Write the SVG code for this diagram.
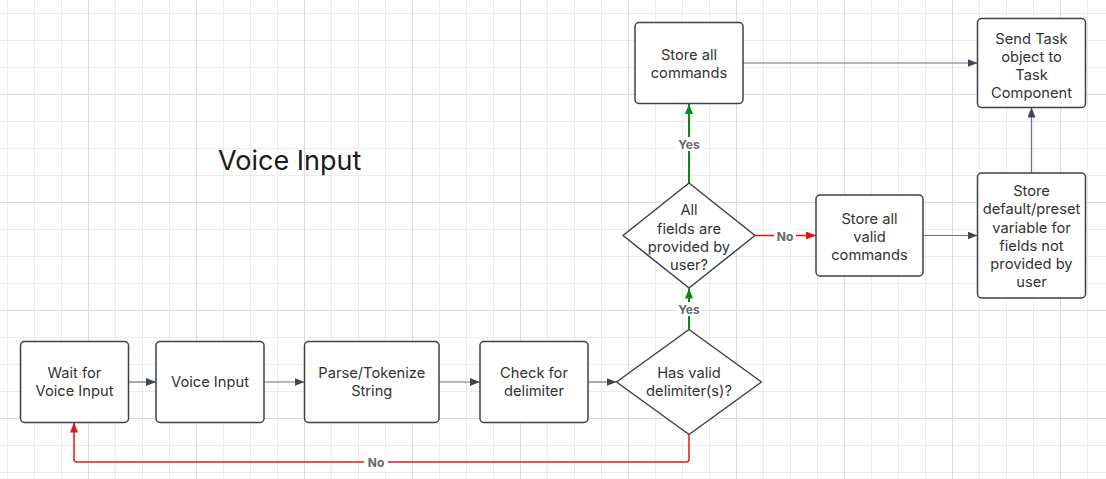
<svg xmlns="http://www.w3.org/2000/svg" width="1106" height="479" viewBox="0 0 1106 479">
  <defs>
    <pattern id="minor" patternUnits="userSpaceOnUse" x="7" y="13" width="27" height="27">
      <path d="M0.5 0V27M0 0.5H27" stroke="#ececec" stroke-width="1" fill="none"/>
    </pattern>
    <pattern id="major" patternUnits="userSpaceOnUse" x="88" y="94" width="108" height="108">
      <path d="M0.5 0V108M0 0.5H108" stroke="#dcdcdc" stroke-width="1" fill="none"/>
    </pattern>
    <marker id="arrowGray" viewBox="0 0 10 8" refX="10" refY="4" markerWidth="10" markerHeight="8" markerUnits="userSpaceOnUse" orient="auto">
      <path d="M0 0L10 4L0 8Z" fill="#3f4652"/>
    </marker>
    <marker id="arrowRed" viewBox="0 0 10 8" refX="10" refY="4" markerWidth="10" markerHeight="8" markerUnits="userSpaceOnUse" orient="auto">
      <path d="M0 0L10 4L0 8Z" fill="#e81414"/>
    </marker>
    <marker id="arrowGreen" viewBox="0 0 10 8" refX="10" refY="4" markerWidth="10" markerHeight="8" markerUnits="userSpaceOnUse" orient="auto">
      <path d="M0 0L10 4L0 8Z" fill="#088a12"/>
    </marker>
  </defs>
  <style>
    .box { fill: #ffffff; stroke: #3a414b; stroke-width: 1.5; }
    .txt { font-family: Inter, "Liberation Sans", sans-serif; font-size: 14.7px; fill: #333333; text-anchor: middle; }
    .title { font-family: Inter, "Liberation Sans", sans-serif; font-size: 27px; fill: #1a1a1a; }
    .line { fill: none; stroke: #6b7280; stroke-width: 1.2; marker-end: url(#arrowGray); }
    .red { fill: none; stroke: #e81414; stroke-width: 1.5; }
    .green { fill: none; stroke: #088a12; stroke-width: 2; }
    .lbl { font-family: Inter, "Liberation Sans", sans-serif; font-size: 12px; font-weight: bold; fill: #666666; text-anchor: middle; }
    .lblbg { fill: #ffffff; }
  </style>
  <rect width="1106" height="479" fill="#ffffff"/>
  <rect width="1106" height="479" fill="url(#minor)"/>
  <rect width="1106" height="479" fill="url(#major)"/>

  <text class="title" x="218" y="170">Voice Input</text>

  <g id="connectors">
    <path class="line" d="M128.5 382H156"/>
    <path class="line" d="M264 382H304.5"/>
    <path class="line" d="M439 382H480"/>
    <path class="line" d="M588 382H616.5"/>
    <path class="red" marker-end="url(#arrowRed)" d="M689 435V459Q689 462 686 462H77Q74 462 74 459V422.5"/>
    <path class="green" marker-end="url(#arrowGreen)" d="M689 329V288.5"/>
    <path class="green" marker-end="url(#arrowGreen)" d="M689 183V104"/>
    <path class="red" marker-end="url(#arrowRed)" d="M755 235.5H816"/>
    <path class="line" d="M923 235.5H977.5"/>
    <path class="line" d="M743 63H977.5"/>
    <path class="line" d="M1031.5 173V107.5"/>
    <rect class="lblbg" x="364" y="455" width="24" height="14"/>
    <text class="lbl" x="376" y="467">No</text>
    <rect class="lblbg" x="676" y="302" width="26" height="14"/>
    <text class="lbl" x="689" y="314">Yes</text>
    <rect class="lblbg" x="676" y="137" width="26" height="14"/>
    <text class="lbl" x="689" y="149">Yes</text>
    <rect class="lblbg" x="774" y="229" width="22" height="14"/>
    <text class="lbl" x="785" y="240.5">No</text>
  </g>

  <g id="wait">
    <rect class="box" x="20.5" y="341.5" width="108" height="81" rx="4"/>
    <text class="txt" x="74.5" y="378">Wait for</text>
    <text class="txt" x="74.5" y="396">Voice Input</text>
  </g>
  <g id="voice">
    <rect class="box" x="156" y="341.5" width="108" height="81" rx="4"/>
    <text class="txt" x="210" y="387">Voice Input</text>
  </g>
  <g id="parse">
    <rect class="box" x="304.5" y="341.5" width="134.5" height="81" rx="4"/>
    <text class="txt" x="371.75" y="378">Parse/Tokenize</text>
    <text class="txt" x="371.75" y="396">String</text>
  </g>
  <g id="check">
    <rect class="box" x="480" y="341.5" width="108" height="81" rx="4"/>
    <text class="txt" x="534" y="378">Check for</text>
    <text class="txt" x="534" y="396">delimiter</text>
  </g>
  <g id="hasvalid">
    <path class="box" stroke-linejoin="round" d="M689 329.5L761.5 382L689 434.5L616.5 382Z"/>
    <text class="txt" x="689" y="378">Has valid</text>
    <text class="txt" x="689" y="396">delimiter(s)?</text>
  </g>
  <g id="allfields">
    <path class="box" stroke-linejoin="round" d="M689 183L755 235.5L689 288L623 235.5Z"/>
    <text class="txt" x="689" y="215">All</text>
    <text class="txt" x="689" y="233.5">fields are</text>
    <text class="txt" x="689" y="251.5">provided by</text>
    <text class="txt" x="689" y="270">user?</text>
  </g>
  <g id="storeall">
    <rect class="box" x="635" y="22.5" width="108" height="81" rx="4"/>
    <text class="txt" x="689" y="59.5">Store all</text>
    <text class="txt" x="689" y="77.5">commands</text>
  </g>
  <g id="sendtask">
    <rect class="box" x="977.5" y="18.5" width="108" height="89" rx="4"/>
    <text class="txt" x="1031.5" y="43.5">Send Task</text>
    <text class="txt" x="1031.5" y="61.5">object to</text>
    <text class="txt" x="1031.5" y="79.5">Task</text>
    <text class="txt" x="1031.5" y="97.5">Component</text>
  </g>
  <g id="storevalid">
    <rect class="box" x="816" y="195" width="107" height="81" rx="4"/>
    <text class="txt" x="869.5" y="223.5">Store all</text>
    <text class="txt" x="869.5" y="241.5">valid</text>
    <text class="txt" x="869.5" y="260">commands</text>
  </g>
  <g id="storedefault">
    <rect class="box" x="977.5" y="173" width="108" height="125" rx="4"/>
    <text class="txt" x="1031.5" y="196">Store</text>
    <text class="txt" x="1031.5" y="214">default/preset</text>
    <text class="txt" x="1031.5" y="232.5">variable for</text>
    <text class="txt" x="1031.5" y="251">fields not</text>
    <text class="txt" x="1031.5" y="269">provided by</text>
    <text class="txt" x="1031.5" y="287">user</text>
  </g>
</svg>
